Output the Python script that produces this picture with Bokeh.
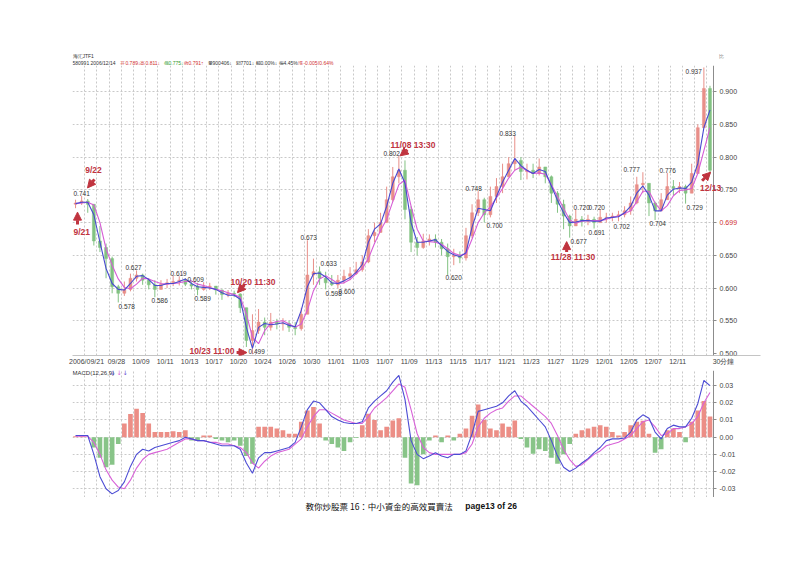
from bokeh.plotting import figure
from bokeh.layouts import column
from bokeh.models import (Range1d, FixedTicker, NumeralTickFormatter, Label, Arrow,
                          NormalHead, ColumnDataSource)
from bokeh.embed import file_html
from bokeh.resources import INLINE
from bokeh.core.properties import value

# ---------------- data (30-minute bars, two per trading day) -------------
first_open = 0.728
close = [0.730, 0.733, 0.728, 0.672, 0.662, 0.645, 0.602, 0.592, 0.598, 0.615,
         0.620, 0.612, 0.605, 0.598, 0.606, 0.608, 0.610, 0.612, 0.606, 0.603,
         0.598, 0.602, 0.603, 0.597, 0.590, 0.592, 0.591, 0.570, 0.520, 0.535,
         0.548, 0.540, 0.548, 0.545, 0.546, 0.540, 0.538, 0.560, 0.620, 0.625,
         0.615, 0.608, 0.605, 0.612, 0.618, 0.622, 0.628, 0.640, 0.680, 0.685,
         0.700, 0.735, 0.770, 0.780, 0.720, 0.670, 0.662, 0.672, 0.675, 0.670,
         0.660, 0.648, 0.650, 0.646, 0.680, 0.715, 0.735, 0.712, 0.740, 0.755,
         0.770, 0.790, 0.795, 0.778, 0.780, 0.775, 0.785, 0.770, 0.745, 0.728,
         0.710, 0.695, 0.705, 0.702, 0.705, 0.700, 0.708, 0.708, 0.710, 0.712,
         0.718, 0.730, 0.758, 0.760, 0.730, 0.718, 0.735, 0.755, 0.752, 0.755,
         0.745, 0.775, 0.845, 0.905, 0.780]
high = [0.735, 0.741, 0.736, 0.728, 0.695, 0.668, 0.648, 0.605, 0.610, 0.622,
        0.627, 0.622, 0.615, 0.612, 0.612, 0.614, 0.619, 0.618, 0.615, 0.609,
        0.608, 0.609, 0.608, 0.603, 0.598, 0.597, 0.596, 0.592, 0.570, 0.560,
        0.568, 0.555, 0.562, 0.553, 0.554, 0.550, 0.548, 0.570, 0.673, 0.645,
        0.633, 0.625, 0.620, 0.620, 0.628, 0.632, 0.640, 0.650, 0.690, 0.700,
        0.715, 0.755, 0.785, 0.802, 0.795, 0.725, 0.678, 0.683, 0.682, 0.682,
        0.675, 0.668, 0.660, 0.656, 0.692, 0.728, 0.748, 0.738, 0.755, 0.768,
        0.790, 0.800, 0.833, 0.800, 0.790, 0.790, 0.798, 0.785, 0.772, 0.748,
        0.735, 0.712, 0.720, 0.710, 0.712, 0.709, 0.720, 0.715, 0.715, 0.718,
        0.725, 0.740, 0.770, 0.777, 0.760, 0.732, 0.745, 0.776, 0.765, 0.762,
        0.758, 0.790, 0.850, 0.937, 0.909]
low = [0.722, 0.727, 0.715, 0.665, 0.655, 0.615, 0.592, 0.578, 0.588, 0.595,
       0.610, 0.605, 0.598, 0.586, 0.598, 0.600, 0.603, 0.604, 0.603, 0.598,
       0.589, 0.596, 0.597, 0.590, 0.582, 0.586, 0.586, 0.562, 0.510, 0.499,
       0.530, 0.528, 0.535, 0.537, 0.535, 0.533, 0.528, 0.535, 0.560, 0.605,
       0.605, 0.598, 0.603, 0.600, 0.607, 0.612, 0.620, 0.625, 0.638, 0.670,
       0.685, 0.700, 0.732, 0.760, 0.705, 0.655, 0.650, 0.660, 0.665, 0.662,
       0.650, 0.620, 0.635, 0.638, 0.642, 0.676, 0.710, 0.700, 0.708, 0.730,
       0.745, 0.770, 0.780, 0.765, 0.766, 0.768, 0.772, 0.760, 0.730, 0.715,
       0.690, 0.677, 0.695, 0.694, 0.696, 0.691, 0.700, 0.700, 0.702, 0.702,
       0.708, 0.712, 0.728, 0.745, 0.710, 0.704, 0.718, 0.735, 0.742, 0.745,
       0.729, 0.745, 0.775, 0.845, 0.775]
ma_fast = [0.729, 0.731, 0.731, 0.712, 0.670, 0.630, 0.607, 0.598, 0.597, 0.607,
           0.618, 0.619, 0.613, 0.604, 0.604, 0.607, 0.607, 0.610, 0.614, 0.607,
           0.602, 0.601, 0.600, 0.598, 0.593, 0.589, 0.589, 0.583, 0.540, 0.508,
           0.540, 0.546, 0.544, 0.545, 0.547, 0.543, 0.541, 0.566, 0.602, 0.622,
           0.623, 0.617, 0.608, 0.607, 0.611, 0.616, 0.624, 0.636, 0.670, 0.690,
           0.698, 0.725, 0.760, 0.782, 0.760, 0.700, 0.670, 0.670, 0.672, 0.674,
           0.665, 0.656, 0.651, 0.648, 0.654, 0.693, 0.722, 0.720, 0.718, 0.740,
           0.762, 0.780, 0.798, 0.787, 0.780, 0.775, 0.781, 0.778, 0.756, 0.734,
           0.715, 0.700, 0.701, 0.703, 0.703, 0.702, 0.702, 0.707, 0.708, 0.709,
           0.715, 0.725, 0.745, 0.756, 0.742, 0.718, 0.718, 0.742, 0.751, 0.753,
           0.752, 0.762, 0.790, 0.845, 0.872]
ma_slow = [0.729, 0.730, 0.731, 0.727, 0.700, 0.660, 0.635, 0.614, 0.601, 0.599,
           0.606, 0.615, 0.614, 0.610, 0.607, 0.606, 0.607, 0.608, 0.610, 0.611,
           0.606, 0.604, 0.601, 0.598, 0.596, 0.593, 0.590, 0.586, 0.560, 0.525,
           0.515, 0.535, 0.546, 0.549, 0.550, 0.545, 0.540, 0.545, 0.566, 0.596,
           0.614, 0.619, 0.613, 0.607, 0.608, 0.613, 0.622, 0.630, 0.645, 0.668,
           0.688, 0.705, 0.732, 0.758, 0.765, 0.725, 0.690, 0.672, 0.671, 0.670,
           0.667, 0.660, 0.653, 0.650, 0.652, 0.675, 0.700, 0.715, 0.724, 0.738,
           0.752, 0.768, 0.780, 0.785, 0.779, 0.775, 0.776, 0.774, 0.758, 0.740,
           0.722, 0.704, 0.699, 0.702, 0.703, 0.703, 0.703, 0.705, 0.708, 0.710,
           0.714, 0.718, 0.732, 0.748, 0.748, 0.730, 0.718, 0.726, 0.741, 0.749,
           0.750, 0.752, 0.775, 0.810, 0.845]
dif = [0.001, 0.001, 0.001, -0.010, -0.023, -0.030, -0.033, -0.031, -0.026, -0.017,
       -0.010, -0.007, -0.008, -0.006, -0.005, -0.004, -0.003, -0.002, 0.000, -0.001,
       -0.002, -0.002, -0.003, -0.004, -0.005, -0.005, -0.005, -0.007, -0.015, -0.021,
       -0.012, -0.009, -0.009, -0.008, -0.007, -0.006, -0.003, 0.006, 0.016, 0.021,
       0.020, 0.016, 0.012, 0.010, 0.0085, 0.008, 0.008, 0.009, 0.017, 0.021,
       0.024, 0.027, 0.032, 0.036, 0.022, -0.002, -0.010, -0.0125, -0.011, -0.009,
       -0.011, -0.012, -0.010, -0.010, -0.008, 0.002, 0.015, 0.016, 0.017, 0.018,
       0.020, 0.024, 0.027, 0.021, 0.018, 0.014, 0.010, 0.006, -0.002, -0.011,
       -0.0175, -0.020, -0.018, -0.015, -0.0125, -0.009, -0.006, -0.002, -0.001, -0.001,
       -0.0005, 0.003, 0.010, 0.013, 0.011, 0.003, -0.001, 0.005, 0.007, 0.006,
       0.006, 0.011, 0.0195, 0.033, 0.030]
dea = [0.0005, 0.0005, 0.0005, -0.003, -0.010, -0.019, -0.025, -0.029, -0.030, -0.025,
       -0.018, -0.013, -0.010, -0.009, -0.008, -0.007, -0.005, -0.003, -0.001, -0.001,
       -0.002, -0.002, -0.003, -0.003, -0.004, -0.004, -0.005, -0.006, -0.009, -0.015,
       -0.018, -0.014, -0.011, -0.009, -0.008, -0.007, -0.004, -0.001, 0.006, 0.012,
       0.016, 0.016, 0.014, 0.012, 0.010, 0.009, 0.008, 0.008, 0.012, 0.017,
       0.020, 0.023, 0.027, 0.031, 0.029, 0.016, 0.002, -0.006, -0.009, -0.010,
       -0.010, -0.010, -0.010, -0.010, -0.009, -0.004, 0.006, 0.011, 0.014, 0.016,
       0.017, 0.021, 0.024, 0.024, 0.021, 0.018, 0.015, 0.012, 0.008, 0.001,
       -0.007, -0.013, -0.017, -0.016, -0.013, -0.010, -0.008, -0.005, -0.004, -0.003,
       -0.001, 0.001, 0.005, 0.009, 0.010, 0.006, 0.001, 0.002, 0.005, 0.005,
       0.006, 0.008, 0.012, 0.020, 0.026]
macd_hist = [0.0005, 0.0005, 0.0, -0.006, -0.012, -0.0175, -0.016, -0.004, 0.008, 0.0135,
             0.0165, 0.014, 0.008, 0.003, 0.003, 0.003, 0.0035, 0.003, 0.004, -0.002,
             -0.002, 0.001, 0.001, -0.001, -0.002, -0.003, -0.002, -0.005, -0.011, -0.0155,
             0.006, 0.006, 0.006, 0.005, 0.004, 0.002, 0.002, 0.009, 0.0155, 0.0175,
             0.008, -0.002, -0.004, -0.006, -0.008, -0.003, -0.0005, 0.007, 0.0136, 0.010,
             0.004, 0.006, 0.0097, 0.011, -0.012, -0.027, -0.028, -0.010, -0.002, 0.001,
             -0.003, 0.001, -0.002, 0.002, 0.005, 0.0125, 0.019, 0.010, 0.005, 0.004,
             0.008, 0.006, 0.0097, -0.001, -0.006, -0.0097, -0.007, -0.008, -0.012, -0.0155,
             -0.010, -0.004, 0.002, 0.004, 0.005, 0.006, 0.007, 0.006, 0.003, 0.001,
             0.003, 0.007, 0.009, 0.0095, 0.002, -0.009, -0.007, 0.004, 0.005, 0.003,
             -0.003, 0.009, 0.0155, 0.021, 0.012]

date_labels = ["2006/09/21", "09/28", "10/09", "10/11", "10/13", "10/17", "10/20", "10/24",
               "10/26", "10/30", "11/01", "11/03", "11/07", "11/09", "11/13", "11/15",
               "11/17", "11/21", "11/23", "11/27", "11/29", "12/01", "12/05", "12/07", "12/11"]
period_label = "30分鐘"
price_ticks = [0.50, 0.55, 0.60, 0.65, 0.70, 0.75, 0.80, 0.85, 0.90]
last_price_label = "0.699"
macd_ticks = [-0.03, -0.02, -0.01, 0.0, 0.01, 0.02, 0.03]

# bars whose high ('H') or low ('L') is written on the chart
extreme_bars = [1, 7, 10, 13, 16, 19, 20, 29, 38, 40, 41, 43, 53, 61, 66, 67, 72,
                81, 82, 86, 85, 89, 93, 95, 97, 100, 103]
extreme_kind = ["H", "L", "H", "L", "H", "H", "L", "L", "H", "H", "L", "L", "H", "L", "H", "L", "H",
                "L", "H", "H", "L", "L", "H", "L", "H", "L", "H"]

# ---------------- geometry / styling -----------------------------------------------------
W = 792
PR = 52.54          # right edge of the price area (axis position), in trading days
XR = (0, 56.39)     # frame also holds the axis-label column
FONT = "Liberation Sans"
CJK = "Noto Sans CJK TC"
ANN = "#c0343f"
GRID = "#c9c9c9"
BL, BR = 72, W - 760

xs = [0.25 + 0.5 * i for i in range(len(close))]
opens = [first_open] + close[:-1]
RED, GREEN = "#e88f89", "#82c282"
ccol = [RED if c >= o else GREEN for o, c in zip(opens, close)]
src = ColumnDataSource(dict(x=xs, o=opens, c=close, h=high, l=low,
                            top=[max(o, c) for o, c in zip(opens, close)],
                            bot=[min(o, c) for o, c in zip(opens, close)],
                            col=ccol, maf=ma_fast, mas=ma_slow))
xrange = Range1d(*XR)


def strip(height):
    f = figure(width=W, height=height, output_backend="svg", toolbar_location=None,
               x_range=xrange, y_range=Range1d(height, 0), title=None,
               x_axis_location=None, y_axis_location=None, min_border_left=BL,
               min_border_right=BR, min_border_top=0, min_border_bottom=0)
    f.grid.visible = False
    f.outline_line_color = None
    return f


def style_grid(p, yticks):
    p.xgrid.ticker = FixedTicker(ticks=list(range(1, 53)))
    p.ygrid.ticker = FixedTicker(ticks=yticks)
    for g in (p.xgrid, p.ygrid):
        g.grid_line_color = GRID
        g.grid_line_dash = "2 2"
        g.grid_line_width = 1
    try:
        p.ygrid.cross_bounds = (0, PR)
    except Exception:
        p.ygrid.visible = False
        p.segment(x0=[0] * len(yticks), x1=[PR] * len(yticks), y0=yticks, y1=yticks,
                  line_color=GRID, line_dash="2 2", line_width=1)


def style_raxis(ax, ticks, fmt):
    ax.fixed_location = PR
    ax.ticker = FixedTicker(ticks=ticks)
    ax.formatter = NumeralTickFormatter(format=fmt)
    ax.axis_line_color = "#8c8c8c"
    ax.major_tick_line_color = "#8c8c8c"
    ax.major_tick_out = 3
    ax.major_tick_in = 0
    ax.minor_tick_line_color = None
    ax.major_label_standoff = 3
    ax.major_label_text_font = FONT
    ax.major_label_text_font_size = "7px"
    ax.major_label_text_color = "#444444"


# ---------------- header strip (x in trading days, y in pixels from top) ---------------------
p0 = strip(65)
hx = [0.0, 0.0, 1.48, 3.93, 5.57, 7.46, 9.1, 11.07, 13.36, 15.0, 16.89, 18.52, 52.95]
hy = [55, 62, 62, 62, 62, 62, 62, 62, 62, 62, 62, 62, 55]
ht = ["海汇JTF1", "580991", "2006/12/14", "开0.789↓", "高0.811↓", "低0.775↓", "收0.791↑",
      "量900406↓", "額7701↓", "幅0.00%↓", "振4.45%", "漲-0.005(0.64%", "比"]
hc = ["#333333", "#333333", "#333333", "#d03030", "#d03030", "#2f9a2f", "#d03030",
      "#333333", "#333333", "#333333", "#333333", "#d03030", "#888888"]
p0.text(x=hx, y=hy, text=ht, text_color=hc, text_font=value(FONT), text_font_size="5px",
        text_baseline="middle", text_align="left")

# ---------------- price panel ----------------------------------------------------------------
p1 = figure(width=W, height=303, output_backend="svg", toolbar_location=None, title=None,
            x_range=xrange, y_range=Range1d(0.497, 0.940), y_axis_location="right",
            min_border_left=BL, min_border_right=BR, min_border_top=0, min_border_bottom=13)
p1.outline_line_color = None
style_grid(p1, [0.55, 0.60, 0.65, 0.70, 0.75, 0.80, 0.85, 0.90])
yax = p1.yaxis[0]
style_raxis(yax, price_ticks, "0.000")
yax.major_label_overrides = {0.70: " "}

date_pos = [1.15] + [3.6 + 2.0 * k for k in range(len(date_labels) - 1)] + [53.36]
xax = p1.xaxis[0]
xax.ticker = FixedTicker(ticks=date_pos)
xax.major_label_overrides = {pos: lab for pos, lab in zip(date_pos, date_labels + [period_label])}
xax.axis_line_color = "#c4c4c4"
xax.major_tick_line_color = None
xax.major_tick_out = 0
xax.major_tick_in = 0
xax.minor_tick_line_color = None
xax.minor_tick_out = 0
xax.major_label_standoff = 2
xax.major_label_text_font = FONT
xax.major_label_text_font_size = "7px"
xax.major_label_text_color = "#444444"

p1.segment(x0="x", y0="l", x1="x", y1="h", color="col", line_width=1, source=src)
p1.vbar(x="x", width=0.24, top="top", bottom="bot", fill_color="col", line_color="col",
        line_width=0.5, source=src)
p1.line("x", "mas", source=src, line_color="#d65cd6", line_width=1.1)
p1.line("x", "maf", source=src, line_color="#4848d0", line_width=1.1)

ext_x = [0.08, 3.77, 4.34, 6.48, 8.03, 9.43, 10.0, 14.43, 18.69, 20.33, 20.74, 21.8, 25.49,
         30.57, 32.21, 33.93, 35.0, 40.82, 41.07, 42.3, 42.3, 44.34, 45.16, 47.3, 48.11, 50.33, 50.25]
ext_y = [0.744, 0.572, 0.631, 0.581, 0.622, 0.613, 0.584, 0.503, 0.677, 0.637, 0.592, 0.595, 0.805,
         0.616, 0.752, 0.695, 0.836, 0.671, 0.723, 0.723, 0.685, 0.694, 0.781, 0.698, 0.779, 0.723, 0.931]
ext_text = ["%.3f" % (high[b] if k == "H" else low[b]) for b, k in zip(extreme_bars, extreme_kind)]
p1.text(x=ext_x, y=ext_y, text=ext_text, text_font=value(FONT), text_font_size="6.5px",
        text_color="#333333", text_baseline="middle", text_align="left")

p1.add_layout(Label(x=53.03, y=0.700, text=last_price_label, text_font=FONT, text_font_size="7px",
                    text_color="#d03030", text_baseline="middle"))

notes = [("9/22", 1.72, 0.781, "center"), ("9/21", 0.08, 0.686, "left"),
         ("10/20 11:30", 14.80, 0.610, "center"), ("10/23 11:00", 11.43, 0.5035, "center"),
         ("11/08 13:30", 27.91, 0.819, "center"), ("11/28 11:30", 41.02, 0.648, "center"),
         ("12/13", 52.30, 0.7535, "center")]
for t, x, y, al in notes:
    p1.add_layout(Label(x=x, y=y, text=t, text_color=ANN, text_font=FONT, text_font_style="bold",
                        text_font_size="8.5px", text_align=al, text_baseline="middle"))
arrows = [(1.80, 0.766, 1.23, 0.753), (0.41, 0.697, 0.41, 0.716), (14.1, 0.605, 13.52, 0.593),
          (13.45, 0.5015, 14.3, 0.5015), (27.46, 0.811, 26.85, 0.802), (40.5, 0.655, 40.5, 0.671),
          (51.6, 0.764, 52.3, 0.777)]
for x0, y0, x1, y1 in arrows:
    p1.add_layout(Arrow(x_start=x0, y_start=y0, x_end=x1, y_end=y1, line_color=ANN, line_width=3,
                        end=NormalHead(size=8, fill_color=ANN, line_color=ANN)))

# ---------------- MACD panel -----------------------------------------------------------------
p2 = figure(width=W, height=129, output_backend="svg", toolbar_location=None, title=None,
            x_range=xrange, y_range=Range1d(-0.0351, 0.0388), y_axis_location="right",
            x_axis_location=None, min_border_left=BL, min_border_right=BR,
            min_border_top=2, min_border_bottom=0)
p2.outline_line_color = None
style_grid(p2, macd_ticks)
style_raxis(p2.yaxis[0], macd_ticks, "0.00")

hsrc = ColumnDataSource(dict(x=xs, v=macd_hist, dif=dif, dea=dea,
                             col=["#ec8e86" if v >= 0 else "#88c488" for v in macd_hist]))
p2.vbar(x="x", width=0.38, top="v", bottom=0, fill_color="col", line_color=None, source=hsrc)
p2.line("x", "dea", source=hsrc, line_color="#d862d8", line_width=1.1)
p2.line("x", "dif", source=hsrc, line_color="#4c4cd4", line_width=1.1)

p2.add_layout(Label(x=0.0, y=0.0372, text="MACD(12,26,9)", text_font=FONT, text_font_size="6px",
                    text_color="#333333", text_baseline="middle"))
for t, x, c in [("↓", 3.1, "#4646d2"), ("↓", 3.6, "#d55bd5"), ("↓", 4.1, "#6a4ad0")]:
    p2.add_layout(Label(x=x, y=0.0372, text=t, text_font="DejaVu Sans", text_font_size="6.5px",
                        text_color=c, text_baseline="middle"))

# ---------------- footer strip ---------------------------------------------------------------
p3 = strip(23)
p3.text(x=[19.1], y=[8], text=["教你炒股票 16：中小資金的高效買賣法"], text_font=value(CJK),
        text_font_size="8.5px", text_color="#111111", text_baseline="middle")
p3.text(x=[32.2], y=[8], text=["page13 of 26"], text_font=value(FONT), text_font_style="bold",
        text_font_size="8.5px", text_color="#111111", text_baseline="middle")

layout = column(p0, p1, p2, p3, spacing=0)
open("out.html", "w").write(file_html(layout, INLINE))
